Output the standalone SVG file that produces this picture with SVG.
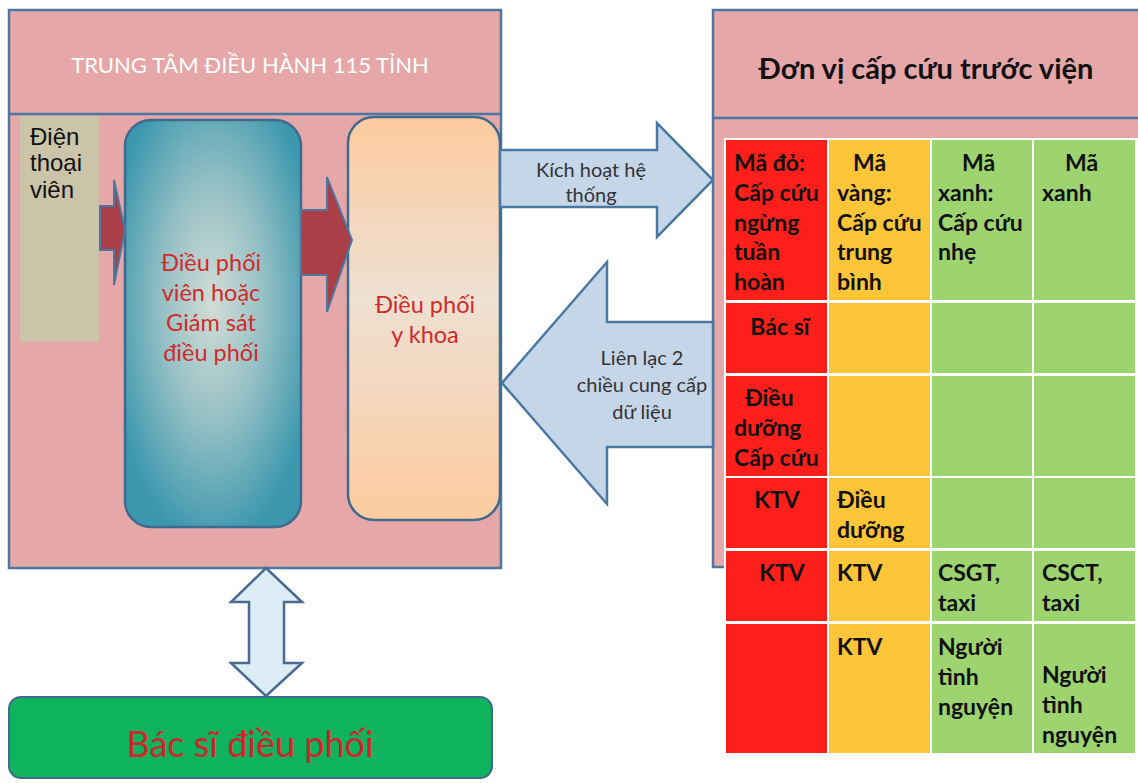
<svg xmlns="http://www.w3.org/2000/svg" width="1138" height="783" viewBox="0 0 1138 783">
<defs>
<radialGradient id="gBlue" cx="0.5" cy="0.45" r="0.6">
<stop offset="0" stop-color="#d2ddd6"/>
<stop offset="0.5" stop-color="#93bfc4"/>
<stop offset="1" stop-color="#3b97ae"/>
</radialGradient>
<linearGradient id="gPeach" x1="0" y1="0" x2="0" y2="1">
<stop offset="0" stop-color="#fdcb9f"/>
<stop offset="0.45" stop-color="#eee0d2"/>
<stop offset="1" stop-color="#fdcb9f"/>
</linearGradient>
<style>
.frame{fill:#e6a7a8;stroke:#4a78a0;stroke-width:2.5}
.line{stroke:#4a78a0;stroke-width:2.5}
.ar{fill:#c6d6e9;stroke:#4a78a0;stroke-width:2.5;stroke-linejoin:miter}
.red{fill:#aa3f48;stroke:#4a78a0;stroke-width:2}
.cal{font-family:Lato,"Open Sans","Noto Sans",sans-serif}
.tb{font-family:Lato,"Open Sans",sans-serif;font-weight:bold;font-size:23px;fill:#111}
.rt{fill:#d02a2a;font-size:23.5px;text-anchor:middle}
.cR{fill:#ff1f1a}.cY{fill:#ffc539}.cG{fill:#9dd470}
</style>
</defs>
<rect width="1138" height="783" fill="#ffffff"/>

<g id="trung-tam">
<rect class="frame" x="9" y="10" width="492" height="558"/>
<line class="line" x1="9" y1="114" x2="501" y2="114"/>
<text class="cal" x="250" y="73" font-size="22" fill="#ffffff" text-anchor="middle">TRUNG TÂM ĐIỀU HÀNH 115 TỈNH</text>
</g>

<g id="dien-thoai-vien">
<rect x="20" y="116" width="79" height="226" fill="#cbc4a9"/>
<text font-family="Liberation Sans,Arial,sans-serif" font-size="24" fill="#111">
<tspan x="30" y="145">Điện</tspan><tspan x="30" y="171">thoại</tspan><tspan x="30" y="198">viên</tspan></text>
</g>

<g id="dieu-phoi-vien">
<rect x="125" y="120" width="176" height="407" rx="26" fill="url(#gBlue)" stroke="#3f6a8e" stroke-width="2.5"/>
<text class="cal rt"><tspan x="211" y="271">Điều phối</tspan><tspan x="211" y="301">viên hoặc</tspan><tspan x="211" y="331">Giám sát</tspan><tspan x="211" y="361">điều phối</tspan></text>
</g>

<g id="dieu-phoi-y-khoa">
<rect x="348" y="117" width="152" height="403" rx="26" fill="url(#gPeach)" stroke="#3f6a8e" stroke-width="2.5"/>
<text class="cal rt"><tspan x="425" y="313">Điều phối</tspan><tspan x="425" y="343">y khoa</tspan></text>
</g>

<g id="don-vi">
<rect class="frame" x="713" y="10" width="430" height="557"/>
<line class="line" x1="713" y1="118" x2="1140" y2="118"/>
<text class="cal" x="926" y="79" font-size="29" font-weight="bold" fill="#111" text-anchor="middle">Đơn vị cấp cứu trước viện</text>
</g>

<g id="bang">
<rect x="724" y="138" width="414" height="617" fill="#ffffff"/>
<rect class="cR" x="726" y="140" width="101" height="160"/>
<rect class="cY" x="829" y="140" width="101" height="160"/>
<rect class="cG" x="932" y="140" width="100" height="160"/>
<rect class="cG" x="1034" y="140" width="101" height="160"/>
<rect class="cR" x="726" y="303" width="101" height="70"/>
<rect class="cY" x="829" y="303" width="101" height="70"/>
<rect class="cG" x="932" y="303" width="100" height="70"/>
<rect class="cG" x="1034" y="303" width="101" height="70"/>
<rect class="cR" x="726" y="376" width="101" height="100"/>
<rect class="cY" x="829" y="376" width="101" height="100"/>
<rect class="cG" x="932" y="376" width="100" height="100"/>
<rect class="cG" x="1034" y="376" width="101" height="100"/>
<rect class="cR" x="726" y="478" width="101" height="70"/>
<rect class="cY" x="829" y="478" width="101" height="70"/>
<rect class="cG" x="932" y="478" width="100" height="70"/>
<rect class="cG" x="1034" y="478" width="101" height="70"/>
<rect class="cR" x="726" y="551" width="101" height="70"/>
<rect class="cY" x="829" y="551" width="101" height="70"/>
<rect class="cG" x="932" y="551" width="100" height="70"/>
<rect class="cG" x="1034" y="551" width="101" height="70"/>
<rect class="cR" x="726" y="624" width="101" height="129"/>
<rect class="cY" x="829" y="624" width="101" height="129"/>
<rect class="cG" x="932" y="624" width="100" height="129"/>
<rect class="cG" x="1034" y="624" width="101" height="129"/>
<text class="tb"><tspan x="734" y="171">Mã đỏ:</tspan><tspan x="734" y="201">Cấp cứu</tspan><tspan x="734" y="231">ngừng</tspan><tspan x="734" y="260">tuần</tspan><tspan x="734" y="290">hoàn</tspan></text>
<text class="tb"><tspan x="853" y="171">Mã</tspan><tspan x="837" y="201">vàng:</tspan><tspan x="837" y="231">Cấp cứu</tspan><tspan x="837" y="260">trung</tspan><tspan x="837" y="290">bình</tspan></text>
<text class="tb"><tspan x="962" y="171">Mã</tspan><tspan x="938" y="201">xanh:</tspan><tspan x="938" y="231">Cấp cứu</tspan><tspan x="938" y="260">nhẹ</tspan></text>
<text class="tb"><tspan x="1065" y="171">Mã</tspan><tspan x="1042" y="201">xanh</tspan></text>
<text class="tb" x="780" y="335" text-anchor="middle">Bác sĩ</text>
<text class="tb"><tspan x="745" y="406">Điều</tspan><tspan x="734" y="436">dưỡng</tspan><tspan x="734" y="466">Cấp cứu</tspan></text>
<text class="tb" x="777" y="508" text-anchor="middle">KTV</text>
<text class="tb"><tspan x="837" y="508">Điều</tspan><tspan x="837" y="538">dưỡng</tspan></text>
<text class="tb" x="782" y="581" text-anchor="middle">KTV</text>
<text class="tb" x="837" y="581">KTV</text>
<text class="tb"><tspan x="938" y="581">CSGT,</tspan><tspan x="938" y="611">taxi</tspan></text>
<text class="tb"><tspan x="1042" y="581">CSCT,</tspan><tspan x="1042" y="611">taxi</tspan></text>
<text class="tb" x="837" y="655">KTV</text>
<text class="tb"><tspan x="938" y="655">Người</tspan><tspan x="938" y="685">tình</tspan><tspan x="938" y="715">nguyện</tspan></text>
<text class="tb"><tspan x="1042" y="683">Người</tspan><tspan x="1042" y="713">tình</tspan><tspan x="1042" y="743">nguyện</tspan></text>
</g>

<g id="bac-si-dieu-phoi">
<rect x="9" y="697" width="483" height="81" rx="12" fill="#0fb35e" stroke="#3f6a8e" stroke-width="2"/>
<text class="cal" x="250" y="757" font-size="36" fill="#d0242a" text-anchor="middle">Bác sĩ điều phối</text>
</g>

<g id="connectors">
<polygon class="red" points="100,206 114,206 114,180 125,230 114,285 114,250 100,250"/>
<polygon class="red" points="301,210 327,210 327,177 352,240 327,312 327,275 301,275"/>
<polygon class="ar" points="500,150 657,150 657,123 713,180 657,237 657,207 500,207"/>
<text class="cal" font-size="20" fill="#333" text-anchor="middle"><tspan x="591" y="177">Kích hoạt hệ</tspan><tspan x="591" y="202">thống</tspan></text>
<polygon class="ar" points="713,322 607,322 607,262 502,383 607,504 607,447 713,447"/>
<text class="cal" font-size="20" fill="#333" text-anchor="middle"><tspan x="642" y="365">Liên lạc 2</tspan><tspan x="642" y="392">chiều cung cấp</tspan><tspan x="642" y="419">dữ liệu</tspan></text>
<polygon points="266,568 302,602 284,602 284,663 302,663 266,696 231,663 249,663 249,602 231,602" fill="#dcedf6" stroke="#4a6a90" stroke-width="2.5"/>
</g>
</svg>
